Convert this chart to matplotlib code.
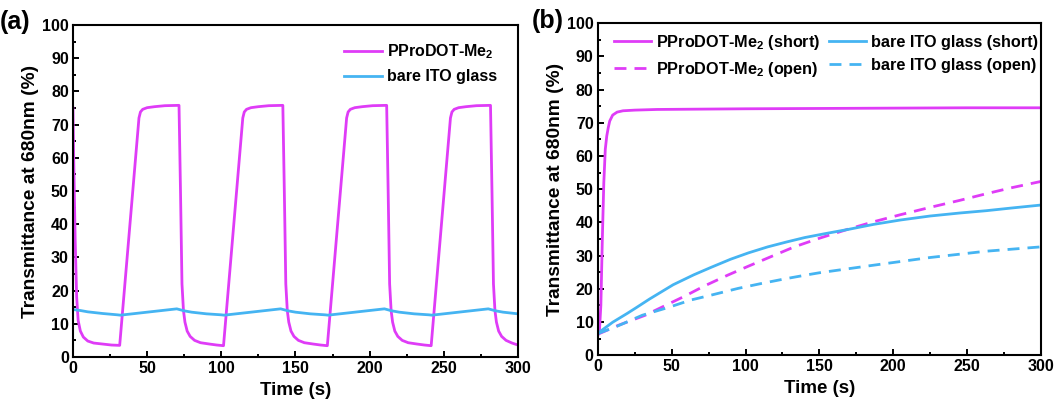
import matplotlib
matplotlib.use('Agg')
from matplotlib import pyplot as plt
from matplotlib.ticker import MultipleLocator

plt.rcParams['font.family'] = ['Liberation Sans', 'DejaVu Sans']
plt.rcParams['font.weight'] = 'bold'
plt.rcParams['mathtext.fontset'] = 'custom'
plt.rcParams['mathtext.rm'] = 'Liberation Sans:bold'
plt.rcParams['mathtext.default'] = 'rm'

magenta = '#DF3CF7'
blue = '#45B4F2'

# (a) switching cycles
ta_film = [0, 0.5, 1.5, 2.5, 3.5, 5, 7, 10, 14, 20, 26, 31.5,
           44.5, 45.5, 47, 50, 55, 62, 71.5,
           72.5, 73.5, 74.5, 75.5, 77, 79, 82, 86, 92, 97, 101.5,
           114.5, 115.5, 117, 120, 125, 132, 141.5,
           142.5, 143.5, 144.5, 145.5, 147, 149, 152, 156, 162, 167, 171.5,
           184.5, 185.5, 187, 190, 195, 202, 211.5,
           212.5, 213.5, 214.5, 215.5, 217, 219, 222, 226, 232, 237, 241.5,
           254.5, 255.5, 257, 260, 265, 272, 281.5,
           282.5, 283.5, 284.5, 285.5, 287, 289, 292, 296, 300]
ya_film = [75, 60, 35, 18, 11, 7.8, 6, 4.8, 4.2, 3.9, 3.6, 3.5,
           72, 73.8, 74.6, 75.1, 75.4, 75.7, 75.8,
           50, 22, 14, 10.5, 7.8, 6.2, 5, 4.3, 3.9, 3.6, 3.4,
           72, 73.8, 74.6, 75.1, 75.4, 75.7, 75.8,
           50, 22, 14, 10.5, 7.8, 6.2, 5, 4.3, 3.9, 3.6, 3.4,
           72, 73.8, 74.6, 75.1, 75.4, 75.7, 75.8,
           50, 22, 14, 10.5, 7.8, 6.2, 5, 4.3, 3.9, 3.6, 3.4,
           72, 73.8, 74.6, 75.1, 75.4, 75.7, 75.8,
           50, 22, 14, 10.5, 7.8, 6.2, 5, 4.2, 3.6]

ta_ito = [0, 5, 10, 20, 30, 32, 40, 50, 60, 70, 75, 80, 90, 100, 102,
          110, 120, 130, 140, 145, 150, 160, 170, 172, 180, 190, 200,
          210, 215, 220, 230, 240, 242, 250, 260, 270, 280, 285,
          290, 300]
ya_ito = [14.3, 14.0, 13.6, 13.1, 12.7, 12.6, 13.0, 13.5, 14.0, 14.5,
          13.9, 13.5, 13.0, 12.7, 12.6, 13.0, 13.5, 14.0, 14.5, 13.9,
          13.5, 13.0, 12.7, 12.6, 13.0, 13.5, 14.0, 14.5, 13.9, 13.5,
          13.0, 12.7, 12.6, 13.0, 13.5, 14.0, 14.5, 13.9, 13.5, 13.0]

# (b) short / open circuit
tb_film_short = [0, 1, 2, 3, 4, 5, 6, 7, 8, 10, 13, 17, 25, 40, 70, 100, 150, 200, 250, 300]
yb_film_short = [6, 7, 15, 35, 52, 62, 66, 68.5, 70.5, 72.3, 73.2, 73.6, 73.8, 74, 74.1,
                 74.2, 74.3, 74.4, 74.5, 74.5]
tb_ito_short = [0, 3, 10, 20, 26, 35, 51, 65, 77, 90, 102, 115, 128, 140, 154, 170,
                187, 205, 225, 245, 263, 280, 300]
yb_ito_short = [6.5, 7.6, 9.9, 12.6, 14.3, 16.9, 21.2, 24.2, 26.5, 28.9, 30.8, 32.6,
                34.1, 35.4, 36.6, 37.9, 39.4, 40.7, 41.9, 42.8, 43.5, 44.3, 45.2]
tb_film_open = [0, 14, 32, 45, 59, 72, 88, 102, 118, 133, 150, 170, 187, 205, 225,
                245, 263, 280, 300]
yb_film_open = [6.3, 9, 12, 14.8, 17.8, 20.8, 24.1, 26.8, 29.8, 32.6, 35.2, 38, 40.2,
                42.3, 44.5, 46.6, 48.6, 50.4, 52.3]
tb_ito_open = [0, 12, 30, 48, 63, 77, 95, 111, 127, 142, 150, 187, 225, 263, 300]
yb_ito_open = [6.5, 8.5, 12, 14.4, 16.6, 18.1, 20.1, 21.6, 23.0, 24.2, 24.8, 27.1,
               29.4, 31.3, 32.6]

fig = plt.figure(figsize=(10.62, 3.99), dpi=100)
ax1 = fig.add_axes([0.0687, 0.1053, 0.419, 0.832])
ax2 = fig.add_axes([0.563, 0.110, 0.417, 0.832])

lw = 2.0
ax1.plot(ta_film, ya_film, c=magenta, lw=lw, label=r'PProDOT-Me$_2$')
ax1.plot(ta_ito, ya_ito, c=blue, lw=lw, label='bare ITO glass')

dash = (0, (4.3, 2.9))
ax2.plot(tb_film_short, yb_film_short, c=magenta, lw=lw, label=r'PProDOT-Me$_2$ (short)')
ax2.plot(tb_film_open, yb_film_open, c=magenta, lw=lw, ls=dash, label=r'PProDOT-Me$_2$ (open)')
ax2.plot(tb_ito_short, yb_ito_short, c=blue, lw=lw, label='bare ITO glass (short)')
ax2.plot(tb_ito_open, yb_ito_open, c=blue, lw=lw, ls=dash, label='bare ITO glass (open)')

for ax in (ax1, ax2):
    ax.set_xlim(0, 300)
    ax.set_ylim(0, 100)
    ax.xaxis.set_major_locator(MultipleLocator(50))
    ax.xaxis.set_minor_locator(MultipleLocator(25))
    ax.yaxis.set_major_locator(MultipleLocator(10))
    ax.yaxis.set_minor_locator(MultipleLocator(5))
    ax.tick_params(which='both', direction='in', width=1.4, labelsize=11.5)
    ax.tick_params(which='major', length=4.5, pad=3)
    ax.tick_params(which='minor', length=2.5)
    for s in ax.spines.values():
        s.set_linewidth(1.5)
    ax.set_xlabel('Time (s)', fontsize=13.5, fontweight='bold', labelpad=4)
    ax.set_ylabel('Transmittance at 680nm (%)', fontsize=13.8, fontweight='bold', labelpad=2)

ax1.legend(loc='upper right', frameon=False, fontsize=11.5, handlelength=2.4,
           handletextpad=0.3, bbox_to_anchor=(0.985, 0.99))
ax2.legend(loc='upper center', frameon=False, fontsize=11.7, ncol=2, handlelength=2.3,
           handletextpad=0.3, columnspacing=0.55, bbox_to_anchor=(0.515, 1.015))

fig.text(0.0, 0.945, '(a)', fontsize=18, fontweight='bold', va='center')
fig.text(0.501, 0.948, '(b)', fontsize=18, fontweight='bold', va='center')

fig.savefig('out.png', dpi=100)
